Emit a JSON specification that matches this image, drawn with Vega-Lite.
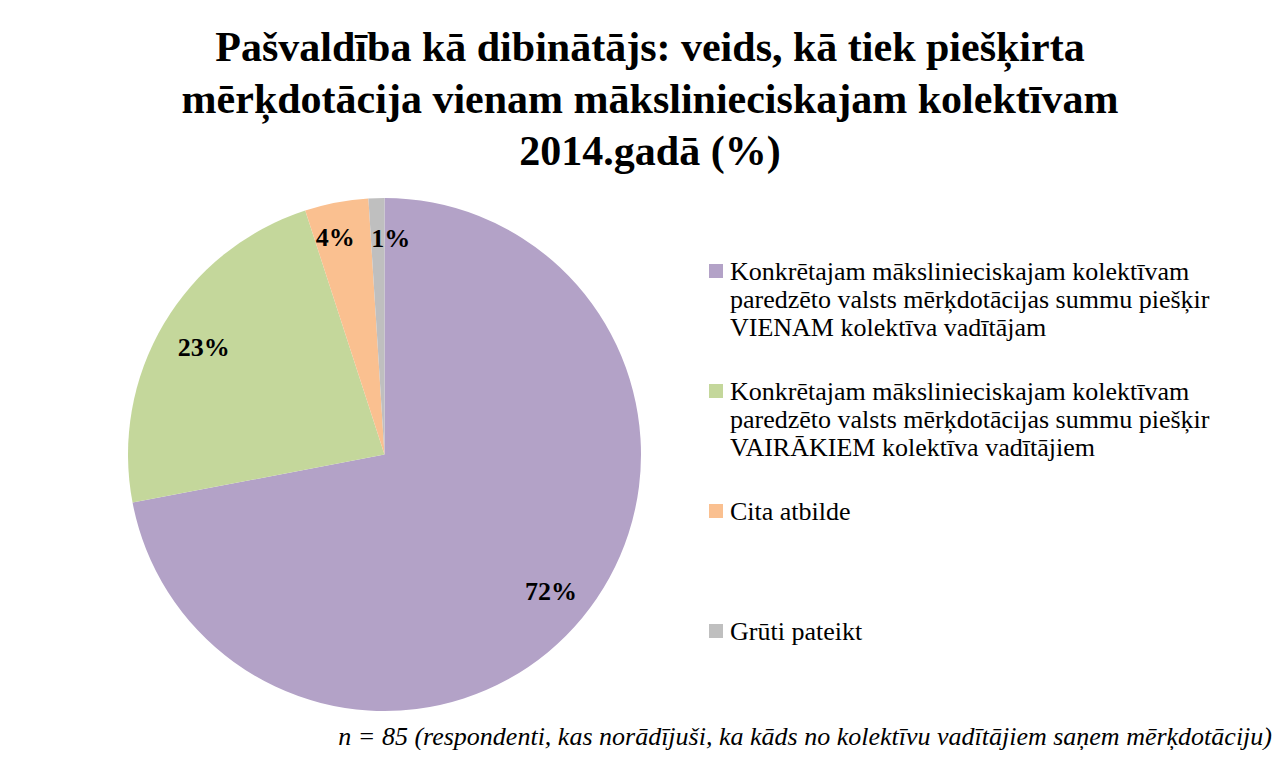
{
  "$schema": "https://vega.github.io/schema/vega-lite/v6.json",
  "background": "white",
  "padding": {"left": 128, "top": 27, "right": 0, "bottom": 0},
  "config": {"view": {"stroke": null}, "font": "Liberation Serif"},
  "title": {
    "text": ["Pašvaldība kā dibinātājs: veids, kā tiek piešķirta", "mērķdotācija vienam mākslinieciskajam kolektīvam", "2014.gadā (%)"],
    "font": "Liberation Serif",
    "fontSize": 42,
    "fontWeight": "bold",
    "color": "black",
    "lineHeight": 52,
    "anchor": "middle",
    "dx": -50,
    "offset": 24
  },
  "vconcat": [
    {
      "width": 513,
      "height": 513,
      "title": {
        "text": "n = 85 (respondenti, kas norādījuši, ka kāds no kolektīvu vadītājiem saņem mērķdotāciju)",
        "orient": "bottom",
        "anchor": "end",
        "font": "Liberation Serif",
        "fontStyle": "italic",
        "fontWeight": "normal",
        "fontSize": 26,
        "color": "black",
        "dx": 631,
        "offset": 13
      },
      "data": {
        "values": [
          {"idx": 1, "atbilde": "Konkrētajam mākslinieciskajam kolektīvam paredzēto valsts mērķdotācijas summu piešķir VIENAM kolektīva vadītājam", "share": 0.72},
          {"idx": 2, "atbilde": "Konkrētajam mākslinieciskajam kolektīvam paredzēto valsts mērķdotācijas summu piešķir VAIRĀKIEM kolektīva vadītājiem", "share": 0.23},
          {"idx": 3, "atbilde": "Cita atbilde", "share": 0.04},
          {"idx": 4, "atbilde": "Grūti pateikt", "share": 0.01}
        ]
      },
      "encoding": {
        "theta": {"field": "share", "type": "quantitative", "stack": true},
        "order": {"field": "idx", "type": "quantitative"},
        "color": {
          "field": "atbilde",
          "type": "nominal",
          "sort": null,
          "scale": {
            "domain": [
              "Konkrētajam mākslinieciskajam kolektīvam paredzēto valsts mērķdotācijas summu piešķir VIENAM kolektīva vadītājam",
              "Konkrētajam mākslinieciskajam kolektīvam paredzēto valsts mērķdotācijas summu piešķir VAIRĀKIEM kolektīva vadītājiem",
              "Cita atbilde",
              "Grūti pateikt"
            ],
            "range": ["#B3A2C7", "#C4D79B", "#FAC090", "#BFBFBF"]
          },
          "legend": {
            "title": null,
            "orient": "none",
            "legendX": 575,
            "legendY": 60,
            "symbolType": "square",
            "symbolSize": 196,
            "symbolStrokeWidth": 0,
            "labelFont": "Liberation Serif",
            "labelFontSize": 26,
            "labelColor": "black",
            "labelLimit": 0,
            "labelOffset": 1,
            "labelBaseline": "top",
            "labelLineHeight": 31,
            "rowPadding": 37,
            "labelExpr": "indexof(datum.label, 'VIENAM') >= 0 ? ['Konkrētajam mākslinieciskajam kolektīvam', 'paredzēto valsts mērķdotācijas summu piešķir', 'VIENAM kolektīva vadītājam'] : indexof(datum.label, 'VAIRĀKIEM') >= 0 ? ['Konkrētajam mākslinieciskajam kolektīvam', 'paredzēto valsts mērķdotācijas summu piešķir', 'VAIRĀKIEM kolektīva vadītājiem'] : [datum.label, ' ', ' ']",
            "encode": {"labels": {"update": {"dy": {"value": -12}}}}
          }
        }
      },
      "layer": [
        {"mark": {"type": "arc", "outerRadius": 256.5}},
        {
          "mark": {
            "type": "text",
            "radius": {"expr": "datum.idx == 2 ? 210 : datum.idx == 3 ? 220 : 216"},
            "dx": {"expr": "datum.idx == 4 ? 13 : datum.idx == 3 ? -8 : 0"},
            "font": "Liberation Serif",
            "fontSize": 26,
            "fontWeight": "bold",
            "color": "black"
          },
          "encoding": {
            "text": {"field": "share", "type": "quantitative", "format": ".0%"},
            "color": {"value": "black"}
          }
        }
      ]
    }
  ]
}
